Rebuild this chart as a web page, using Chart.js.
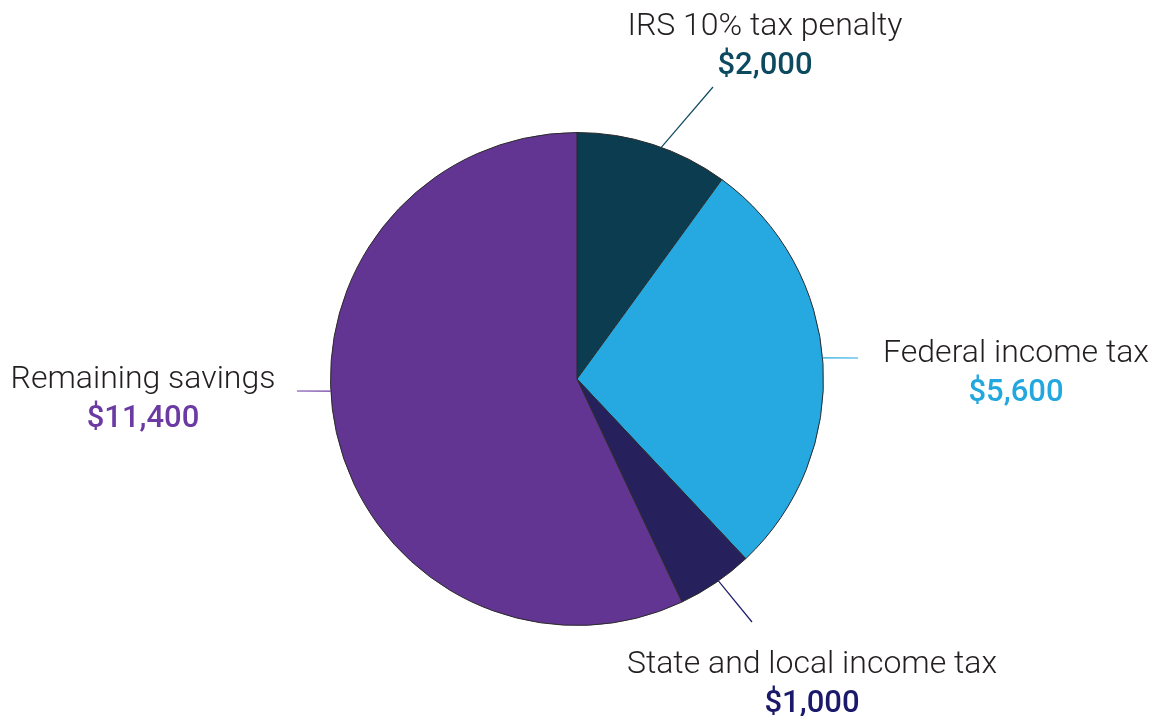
<!DOCTYPE html>
<html>
<head>
<meta charset="utf-8">
<script src="https://cdn.jsdelivr.net/npm/chart.js@4.4.0/dist/chart.umd.min.js"></script>
<style>
  html, body { margin: 0; padding: 0; background: #fff; }
  #wrap { width: 1156px; height: 716px; }
</style>
</head>
<body>
<div id="wrap"><canvas id="pie" width="1156" height="716"></canvas></div>
<script>
const categories = ['IRS 10% tax penalty', 'Federal income tax', 'State and local income tax', 'Remaining savings'];
const amounts = [2000, 5600, 1000, 11400];
const valueLabels = ['$2,000', '$5,600', '$1,000', '$11,400'];
const sliceColors = ['#0b3c50', '#25a9e0', '#26205c', '#633593'];
const valueColors = ['#0d4a60', '#22a7df', '#1b1a6a', '#6b3aa3'];

// leader line + text placement, relative to pie centre (px) / angles in degrees from top
const labelLayout = [
  { lineAngle: 20, lineEnd: [136, -292], text: [188, -344] },
  { lineAngle: 85.1, lineEnd: [281, -21], text: [439, -17] },
  { lineAngle: 145, lineEnd: [175, 243], text: [235, 294] },
  { lineAngle: 267.2, lineEnd: [-280, 12], text: [-434, 9] }
];

const calloutPlugin = {
  id: 'callouts',
  afterDatasetsDraw(chart) {
    const ctx = chart.ctx;
    const arcs = chart.getDatasetMeta(0).data;
    const cx = arcs[0].x, cy = arcs[0].y, r = arcs[0].outerRadius;
    ctx.save();
    labelLayout.forEach((l, i) => {
      const a = l.lineAngle * Math.PI / 180;
      const sx = cx + r * Math.sin(a), sy = cy - r * Math.cos(a);
      ctx.strokeStyle = valueColors[i];
      ctx.lineWidth = 1.2;
      ctx.beginPath();
      ctx.moveTo(sx, sy);
      ctx.lineTo(cx + l.lineEnd[0], cy + l.lineEnd[1]);
      ctx.stroke();

      const tx = cx + l.text[0], ty = cy + l.text[1];
      ctx.textAlign = 'center';
      ctx.textBaseline = 'alphabetic';
      ctx.fillStyle = '#231f20';
      ctx.font = '300 32px Roboto';
      ctx.fillText(categories[i], tx, ty);
      ctx.fillStyle = valueColors[i];
      ctx.font = '500 31px Roboto';
      ctx.fillText(valueLabels[i], tx, ty + 39);
    });
    ctx.restore();
  }
};

new Chart(document.getElementById('pie'), {
  type: 'pie',
  data: {
    labels: categories,
    datasets: [{
      data: amounts,
      backgroundColor: sliceColors,
      borderColor: '#2a2a2a',
      borderWidth: 1
    }]
  },
  options: {
    responsive: false,
    animation: false,
    layout: { padding: { left: 330, right: 332, top: 132, bottom: 90 } },
    plugins: {
      legend: { display: false },
      tooltip: { enabled: false }
    }
  },
  plugins: [calloutPlugin]
});
</script>
</body>
</html>
